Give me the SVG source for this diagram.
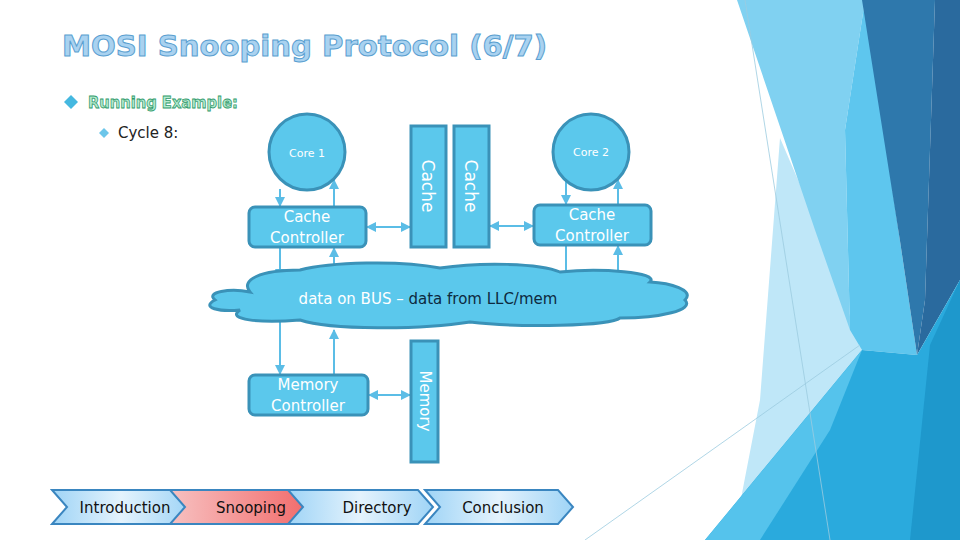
<svg xmlns="http://www.w3.org/2000/svg" width="960" height="540" viewBox="0 0 960 540">
<defs>
<style>
.t{font-family:"DejaVu Sans","Liberation Sans",sans-serif;}
.node{fill:#5bc8ec;stroke:#3a92b8;stroke-width:3;}
.lbl{fill:#fff;font-size:15px;text-anchor:middle;}
.sm{font-size:11px;}
.c{stroke:#5bbde6;stroke-width:2;fill:none;}
.chev{stroke:#3a86c0;stroke-width:2;}
.nav{font-size:15px;fill:#111;text-anchor:middle;}
</style>
<linearGradient id="gb" x1="0" x2="1"><stop offset="0" stop-color="#9fd4f6"/><stop offset="0.5" stop-color="#e4f3fd"/><stop offset="1" stop-color="#9fd4f6"/></linearGradient>
<linearGradient id="gr" x1="0" x2="1"><stop offset="0" stop-color="#f7c1c1"/><stop offset="1" stop-color="#f26a6a"/></linearGradient>
<marker id="ah" viewBox="0 0 10 10" refX="9" refY="5" markerWidth="5" markerHeight="5" orient="auto-start-reverse"><path d="M0,0L10,5L0,10z" fill="#5bbde6"/></marker>
</defs>
<rect width="960" height="540" fill="#fff"/>
<g id="bg">
<polygon points="780,138 817,224 862,350 745,540 733,540 760,400" fill="#bfe7f8"/>
<polygon points="737,0 865,0 845,130 850,330 815,230" fill="#80d1f1"/>
<polygon points="865,0 900,241 917,355 862,350 850,330 845,130" fill="#5ec6ee"/>
<polygon points="862,0 935,0 925,300 917,355 900,241" fill="#2e78ac"/>
<polygon points="935,0 960,0 960,280 917,355 925,300" fill="#2a6a9e"/>
<polygon points="960,280 960,540 705,540 862,350 917,355" fill="#2aaadd"/>
<polygon points="960,280 960,540 910,540 930,345" fill="#1e98cc"/>
<polygon points="862,350 705,540 760,540 830,430" fill="#55c3ec"/>
<line x1="745" y1="0" x2="830" y2="540" stroke="#9ccbe0" stroke-width="0.8"/>
<line x1="585" y1="540" x2="860" y2="345" stroke="#9ccbe0" stroke-width="0.8"/>
</g>
<text class="t" x="62" y="56" font-size="29" font-weight="bold" textLength="485" lengthAdjust="spacingAndGlyphs" fill="#a9d2f0" stroke="#5a9fd0" stroke-width="1">MOSI Snooping Protocol (6/7)</text>
<path d="M64,102l7,-7l7,7l-7,7z" fill="#45b8e0"/>
<text class="t" x="88" y="108" font-size="16" font-weight="bold" textLength="150" lengthAdjust="spacingAndGlyphs" fill="#b5ead0" stroke="#2f9a6a" stroke-width="0.8">Running Example:</text>
<path d="M99,133l5,-5l5,5l-5,5z" fill="#6cc6ea"/>
<text class="t" x="118" y="138" font-size="15" fill="#222">Cycle 8:</text>
<g id="connectors">
<line class="c" x1="280" y1="189" x2="280" y2="206" marker-end="url(#ah)"/>
<line class="c" x1="334" y1="206" x2="334" y2="180" marker-end="url(#ah)"/>
<line class="c" x1="566" y1="180" x2="566" y2="204" marker-end="url(#ah)"/>
<line class="c" x1="618" y1="204" x2="618" y2="180" marker-end="url(#ah)"/>
<line class="c" x1="367" y1="227" x2="410" y2="227" marker-start="url(#ah)" marker-end="url(#ah)"/>
<line class="c" x1="490" y1="226" x2="533" y2="226" marker-start="url(#ah)" marker-end="url(#ah)"/>
<line class="c" x1="280" y1="248" x2="280" y2="278" marker-end="url(#ah)"/>
<line class="c" x1="334" y1="278" x2="334" y2="248" marker-end="url(#ah)"/>
<line class="c" x1="566" y1="246" x2="566" y2="272"/>
<line class="c" x1="618" y1="272" x2="618" y2="246" marker-end="url(#ah)"/>
<line class="c" x1="280" y1="322" x2="280" y2="374" marker-end="url(#ah)"/>
<line class="c" x1="334" y1="374" x2="334" y2="330" marker-end="url(#ah)"/>
<line class="c" x1="369" y1="395" x2="410" y2="395" marker-start="url(#ah)" marker-end="url(#ah)"/>
</g>
<g id="core1"><circle class="node" cx="307" cy="152" r="38"/><text class="t lbl sm" x="307" y="157">Core 1</text></g>
<g id="core2"><circle class="node" cx="591" cy="152" r="38"/><text class="t lbl sm" x="591" y="156">Core 2</text></g>
<g id="cc1"><rect class="node" x="249" y="207" width="117" height="40" rx="6"/><text class="t lbl" x="307" y="222">Cache</text><text class="t lbl" x="307" y="243">Controller</text></g>
<g id="cc2"><rect class="node" x="534" y="205" width="117" height="40" rx="6"/><text class="t lbl" x="592" y="220">Cache</text><text class="t lbl" x="592" y="241">Controller</text></g>
<g id="cache1"><rect class="node" x="411" y="126" width="35" height="121"/><text class="t lbl" style="font-size:17px" transform="translate(422,186) rotate(90)">Cache</text></g>
<g id="cache2"><rect class="node" x="454" y="126" width="35" height="121"/><text class="t lbl" style="font-size:17px" transform="translate(465,186) rotate(90)">Cache</text></g>
<g id="bus">
<path class="node" stroke-width="2" d="M250,292 C230,288 205,292 215,300 C200,308 220,312 240,310 C225,320 260,323 300,320 C330,330 420,330 470,322 C520,328 610,326 620,318 C660,318 695,310 685,300 C695,290 670,283 650,282 C660,272 600,268 560,272 C540,263 480,262 440,268 C400,260 330,262 300,270 C260,270 240,280 250,292 Z"/>
<text class="t" x="428" y="304" font-size="15" text-anchor="middle"><tspan fill="#fff">data on BUS – </tspan><tspan fill="#0d2a40">data from LLC/mem</tspan></text>
</g>
<g id="memctrl"><rect class="node" x="249" y="375" width="119" height="40" rx="6"/><text class="t lbl" x="308" y="390">Memory</text><text class="t lbl" x="308" y="411">Controller</text></g>
<g id="memory"><rect class="node" x="411" y="341" width="27" height="121"/><text class="t lbl" transform="translate(420,401) rotate(90)">Memory</text></g>
<g id="nav">
<polygon class="chev" points="52,490 175,490 190,507 175,524 52,524 67,507" fill="url(#gb)"/>
<text class="t nav" x="125" y="513">Introduction</text>
<polygon class="chev" points="170,490 295,490 310,507 295,524 170,524 185,507" fill="url(#gr)"/>
<text class="t nav" x="251" y="513">Snooping</text>
<polygon class="chev" points="288,490 418,490 433,507 418,524 288,524 303,507" fill="url(#gb)"/>
<text class="t nav" x="377" y="513">Directory</text>
<polygon class="chev" points="425,490 558,490 573,507 558,524 425,524 440,507" fill="url(#gb)"/>
<text class="t nav" x="503" y="513">Conclusion</text>
</g>
</svg>
